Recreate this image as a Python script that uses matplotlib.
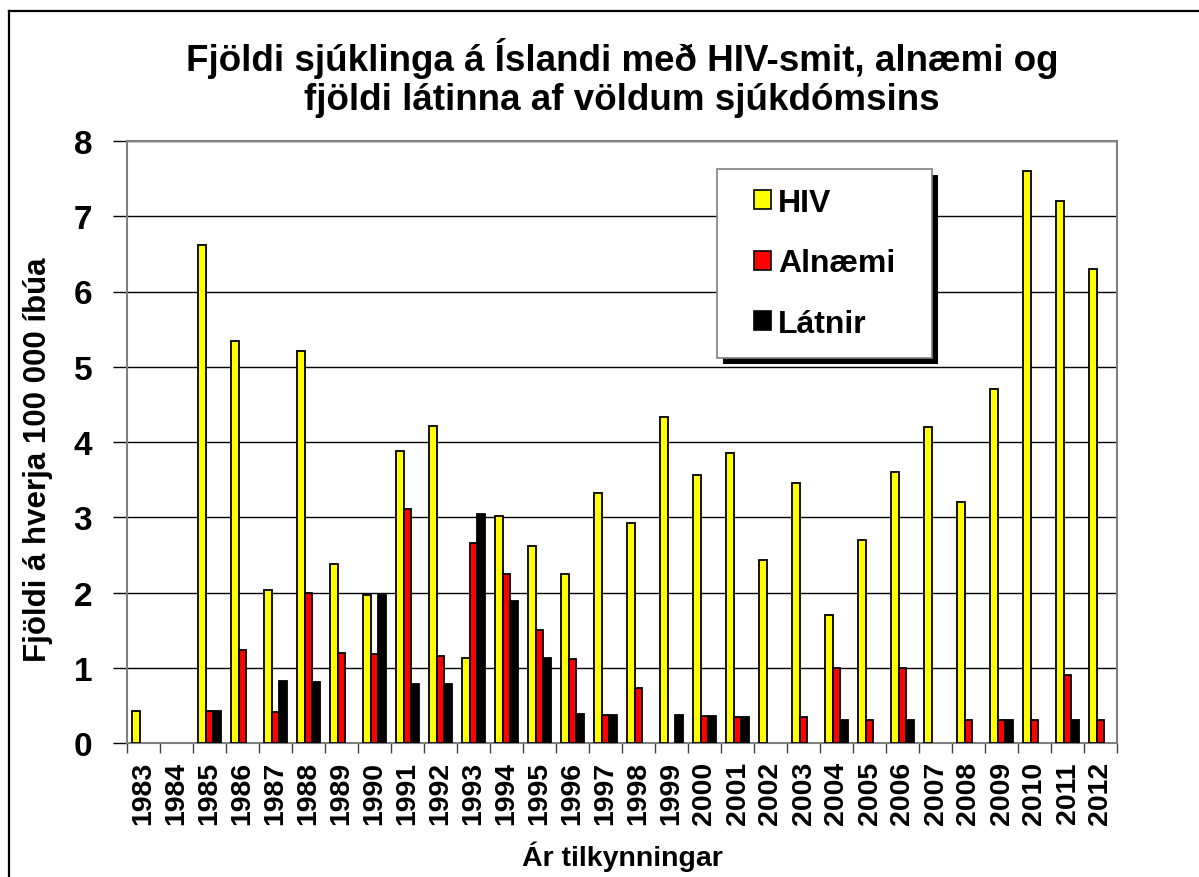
import matplotlib
matplotlib.use("Agg")
import matplotlib.pyplot as plt
from matplotlib.patches import Rectangle
from matplotlib.lines import Line2D
import numpy as np

years = [str(y) for y in range(1983, 2013)]
hiv = [0.43, 0, 6.62, 5.34, 2.03, 5.21, 2.38, 1.97, 3.88, 4.21,
       1.13, 3.01, 2.62, 2.24, 3.32, 2.92, 4.33, 3.56, 3.85, 2.43,
       3.45, 1.70, 2.70, 3.60, 4.20, 3.20, 4.70, 7.60, 7.20, 6.30]
alnaemi = [0, 0, 0.42, 1.24, 0.41, 2.00, 1.19, 1.18, 3.11, 1.15,
           2.66, 2.25, 1.50, 1.11, 0.37, 0.73, 0, 0.36, 0.35, 0,
           0.35, 1.00, 0.31, 1.00, 0, 0.31, 0.31, 0.31, 0.91, 0.31]
latnir = [0, 0, 0.42, 0, 0.82, 0.81, 0, 1.97, 0.79, 0.78,
          3.04, 1.89, 1.13, 0.38, 0.37, 0, 0.37, 0.36, 0.35, 0,
          0, 0.31, 0, 0.31, 0, 0, 0.31, 0, 0.31, 0]
series_names = ["HIV", "Alnæmi", "Látnir"]
series_colors = ["#FFFF00", "#FF0000", "#000000"]

title = "Fjöldi sjúklinga á Íslandi með HIV-smit, alnæmi og\nfjöldi látinna af völdum sjúkdómsins"
ylabel = "Fjöldi á hverja 100 000 íbúa"
xlabel = "Ár tilkynningar"

plt.rcParams['font.family'] = ['Liberation Sans', 'DejaVu Sans']
plt.rcParams['font.weight'] = 'bold'

W, H = 1199, 878
fig = plt.figure(figsize=(W / 100, H / 100), dpi=100)
ax = fig.add_axes([127 / W, (H - 744) / H, (1117 - 127) / W, (744 - 142) / H])

x = np.arange(len(years))
bw = 0.23
for i, (vals, col) in enumerate(zip([hiv, alnaemi, latnir], series_colors)):
    lws = [1.3 if v > 0 else 0 for v in vals]
    ax.bar(x + (i - 1) * bw, vals, width=bw, color=col, edgecolor='black',
           linewidth=lws, zorder=3)

ax.set_xlim(-0.5, len(years) - 0.5)
ax.set_ylim(0, 8)
ax.set_yticks(range(0, 9))
ax.yaxis.grid(True, color='black', linewidth=1.0, zorder=0)
ax.set_axisbelow(True)

ax.set_xticks(np.arange(-0.5, len(years), 1.0))
ax.set_xticklabels([])
ax.set_xticks(x, minor=True)
ax.set_xticklabels(years, minor=True, rotation=90, fontsize=20.5, fontweight='bold')
ax.tick_params(axis='x', which='major', length=7, width=1, color='#404040', direction='out')
ax.tick_params(axis='x', which='minor', length=0, pad=13)
ax.tick_params(axis='y', which='major', length=10, width=1, color='black',
               labelsize=24, pad=15)
for lab in ax.get_yticklabels():
    lab.set_fontweight('bold')

for s in ax.spines.values():
    s.set_color('#808080')
    s.set_linewidth(1.5)

fig.text((127 + 1117) / 2 / W, 1 - 78 / H, title, ha='center', va='center',
         fontsize=26.5, fontweight='bold', linespacing=1.18)

fig.text(38 / W, 1 - 460 / H, ylabel, rotation=90, ha='center', va='center',
         fontsize=22.5, fontweight='bold')
fig.text((127 + 1117) / 2 / W, 1 - 857 / H, xlabel, ha='center', va='center',
         fontsize=20.5, fontweight='bold')

# legend box with shadow
bx0 = (717 - 127) / 990
bw_ = 215 / 990
by0 = (744 - 359) / 602
bh_ = 189 / 602
ax.add_patch(Rectangle((bx0 + 6 / 990, by0 - 6 / 602), bw_, bh_, transform=ax.transAxes,
                       facecolor='black', edgecolor='none', zorder=6, clip_on=False))
ax.add_patch(Rectangle((bx0, by0), bw_, bh_, transform=ax.transAxes,
                       facecolor='white', edgecolor='#808080', linewidth=1.2,
                       zorder=7, clip_on=False))
handles = [Rectangle((0, 0), 1, 1, facecolor=c, edgecolor='black', linewidth=1.2)
           for c in series_colors]
leg = ax.legend(handles, series_names, loc='center',
                bbox_to_anchor=(bx0 + bw_ / 2, by0 + bh_ / 2),
                frameon=False, prop={'size': 23, 'weight': 'bold'},
                handlelength=0.55, handleheight=0.55, handletextpad=0.22,
                labelspacing=0.95, borderpad=0)
leg.set_zorder(8)

# outer frame (left and top)
fig.add_artist(Line2D([9 / W, 9 / W], [0, 1 - 12 / H], color='black', linewidth=1.6,
                      transform=fig.transFigure))
fig.add_artist(Line2D([9 / W, 1], [1 - 12 / H, 1 - 12 / H], color='black', linewidth=1.6,
                      transform=fig.transFigure))

fig.savefig("out.png", dpi=100, facecolor='white')
